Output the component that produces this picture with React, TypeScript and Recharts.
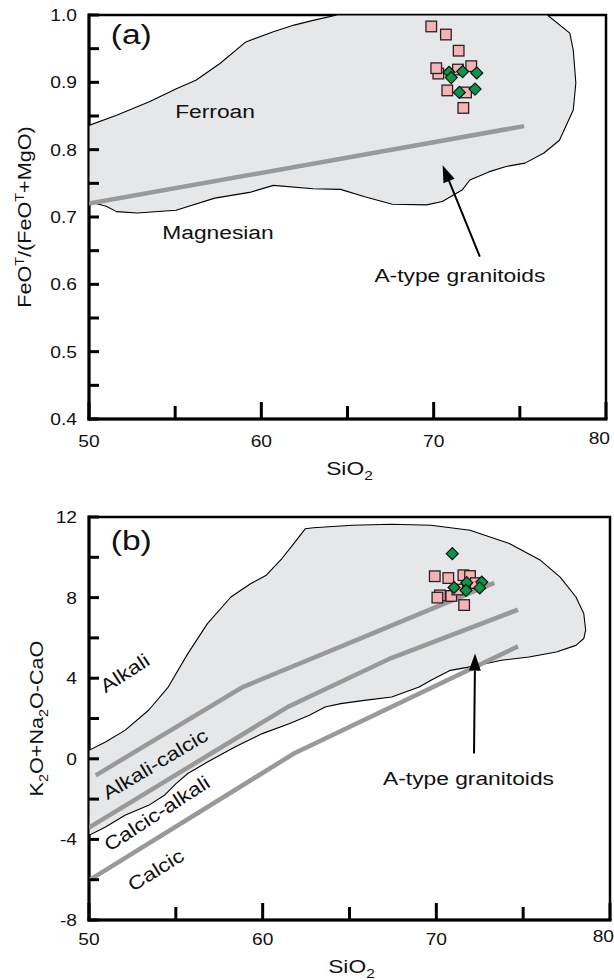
import React from 'react';
import { ScatterChart, Scatter, XAxis, YAxis, ReferenceArea } from 'recharts';

const FONT = '"Liberation Sans", Arial, Helvetica, sans-serif';
const STRETCH = 1.2;
const INK = '#111';

// shared SiO2 axis
const sio2Ticks = [50, 55, 60, 65, 70, 75, 80];
const feoTicks = [0.4, 0.45, 0.5, 0.55, 0.6, 0.65, 0.7, 0.75, 0.8, 0.85, 0.9, 0.95, 1.0];
const maliTicks = [-8, -6, -4, -2, 0, 2, 4, 6, 8, 10, 12];

// (a) FeOT/(FeOT+MgO) vs SiO2
const granitoidFieldA = [
  { x: 50.0, y: 0.836 }, { x: 51.6, y: 0.851 }, { x: 53.5, y: 0.871 }, { x: 55.1, y: 0.891 },
  { x: 56.2, y: 0.903 }, { x: 57.6, y: 0.928 }, { x: 59.1, y: 0.96 }, { x: 60.7, y: 0.975 },
  { x: 61.9, y: 0.985 }, { x: 63.0, y: 0.992 }, { x: 64.4, y: 1.0 }, { x: 76.6, y: 1.0 },
  { x: 77.9, y: 0.973 }, { x: 78.1, y: 0.948 }, { x: 78.25, y: 0.899 }, { x: 78.1, y: 0.859 },
  { x: 77.3, y: 0.814 }, { x: 76.4, y: 0.795 }, { x: 75.3, y: 0.78 }, { x: 74.2, y: 0.775 },
  { x: 73.2, y: 0.767 }, { x: 72.1, y: 0.755 }, { x: 71.65, y: 0.74 }, { x: 70.5, y: 0.723 },
  { x: 69.6, y: 0.718 }, { x: 67.6, y: 0.719 }, { x: 66.0, y: 0.73 }, { x: 64.6, y: 0.741 },
  { x: 63.0, y: 0.742 }, { x: 60.7, y: 0.747 }, { x: 59.4, y: 0.737 }, { x: 57.3, y: 0.728 },
  { x: 55.05, y: 0.71 }, { x: 52.8, y: 0.706 }, { x: 51.6, y: 0.708 }, { x: 51.0, y: 0.716 },
  { x: 50.4, y: 0.72 }, { x: 50.0, y: 0.72 },
];
const ferroanBoundary = [{ x: 50, y: 0.72 }, { x: 75.25, y: 0.835 }];
const squaresA = [
  { x: 69.86, y: 0.983 }, { x: 70.71, y: 0.971 }, { x: 71.45, y: 0.947 },
  { x: 70.27, y: 0.913 }, { x: 70.15, y: 0.921 }, { x: 71.41, y: 0.919 }, { x: 72.18, y: 0.924 },
  { x: 70.79, y: 0.888 }, { x: 71.88, y: 0.885 }, { x: 71.72, y: 0.862 },
];
const diamondsA = [
  { x: 70.89, y: 0.915 }, { x: 71.02, y: 0.907 }, { x: 71.68, y: 0.916 },
  { x: 72.5, y: 0.914 }, { x: 71.49, y: 0.885 }, { x: 72.4, y: 0.89 },
];
const notesA = [
  { x: 55.0, y: 0.847, text: 'Ferroan' },
  { x: 54.25, y: 0.668, text: 'Magnesian' },
  { x: 66.56, y: 0.604, text: 'A-type granitoids' },
];
const arrowA = [{ x: 72.68, y: 0.641 }, { x: 70.52, y: 0.777 }];
const tagA = [{ x: 51.26, y: 0.957, text: '(a)' }];

// (b) MALI (K2O+Na2O-CaO) vs SiO2
const granitoidFieldB = [
  { x: 50.0, y: 0.42 }, { x: 50.95, y: 0.83 }, { x: 52.07, y: 1.41 }, { x: 53.43, y: 2.41 },
  { x: 54.56, y: 3.56 }, { x: 55.69, y: 5.22 }, { x: 56.82, y: 6.71 }, { x: 58.17, y: 8.03 },
  { x: 59.3, y: 8.69 }, { x: 60.21, y: 9.11 }, { x: 61.11, y: 9.94 }, { x: 61.79, y: 10.68 },
  { x: 62.46, y: 11.42 }, { x: 62.92, y: 11.47 }, { x: 65.17, y: 11.59 }, { x: 67.43, y: 11.64 },
  { x: 69.69, y: 11.59 }, { x: 71.94, y: 11.34 }, { x: 74.2, y: 10.68 }, { x: 76.0, y: 9.85 },
  { x: 77.13, y: 9.02 }, { x: 78.04, y: 8.03 }, { x: 78.49, y: 7.21 }, { x: 78.6, y: 6.38 },
  { x: 78.49, y: 5.97 }, { x: 78.04, y: 5.63 }, { x: 76.91, y: 5.3 }, { x: 75.33, y: 5.05 },
  { x: 73.75, y: 4.89 }, { x: 71.94, y: 4.56 }, { x: 70.81, y: 4.39 }, { x: 69.69, y: 3.9 },
  { x: 69.01, y: 3.56 }, { x: 67.43, y: 3.07 }, { x: 65.85, y: 2.9 }, { x: 64.5, y: 2.74 },
  { x: 63.59, y: 2.57 }, { x: 62.69, y: 2.16 }, { x: 61.56, y: 1.75 }, { x: 59.98, y: 1.25 },
  { x: 58.4, y: 0.59 }, { x: 56.82, y: -0.16 }, { x: 55.69, y: -0.73 }, { x: 55.01, y: -1.23 },
  { x: 54.34, y: -1.81 }, { x: 53.43, y: -2.31 }, { x: 52.07, y: -2.8 }, { x: 50.95, y: -3.38 },
  { x: 50.0, y: -3.8 },
];
const alkaliBoundary = [
  { x: 50.39, y: -0.82 }, { x: 58.85, y: 3.56 }, { x: 66.3, y: 6.21 }, { x: 73.34, y: 8.73 },
];
const alkaliCalcicBoundary = [
  { x: 50, y: -3.41 }, { x: 61.5, y: 2.6 }, { x: 67.4, y: 5.0 }, { x: 74.7, y: 7.4 },
];
const calcAlkalicBoundary = [{ x: 50, y: -6.03 }, { x: 61.8, y: 0.26 }, { x: 74.7, y: 5.58 }];
const squaresB = [
  { x: 69.91, y: 9.06 }, { x: 70.69, y: 8.97 }, { x: 71.56, y: 9.11 }, { x: 71.94, y: 9.07 },
  { x: 70.21, y: 8.11 }, { x: 70.06, y: 8.0 }, { x: 70.86, y: 8.08 }, { x: 71.21, y: 8.4 },
  { x: 72.27, y: 8.72 }, { x: 71.6, y: 7.63 },
];
const diamondsB = [
  { x: 70.92, y: 10.18 }, { x: 71.02, y: 8.5 }, { x: 71.75, y: 8.74 },
  { x: 71.71, y: 8.36 }, { x: 72.62, y: 8.77 }, { x: 72.5, y: 8.48 },
];
const notesB = [
  { x: 50.95, y: 3.24, text: 'Alkali', angle: 33 },
  { x: 51.06, y: -2.06, text: 'Alkali-calcic', angle: 31 },
  { x: 51.18, y: -4.63, text: 'Calcic-alkali', angle: 33 },
  { x: 52.53, y: -6.61, text: 'Calcic', angle: 32 },
  { x: 66.93, y: -1.32, text: 'A-type granitoids' },
];
const arrowB = [{ x: 72.17, y: 0.26 }, { x: 72.23, y: 5.22 }];
const tagB = [{ x: 51.25, y: 10.35, text: '(b)' }];

type Pt = { x: number; y: number };
type Note = { x: number; y: number; text: string; angle?: number };

const Wide = ({ x, y, angle = 0, size, anchor = 'start', children }: any) => (
  <text
    transform={`translate(${x},${y}) rotate(${-angle}) scale(${STRETCH},1)`}
    fontFamily={FONT}
    fontSize={size}
    textAnchor={anchor}
    fill={INK}
  >
    {children}
  </text>
);

const noMarker = () => <g />;

const square = (p: any) => (
  <rect x={p.cx - 5.3} y={p.cy - 5.3} width={10.6} height={10.6} fill="#f6b3b5" stroke="#2a2222" strokeWidth={1.3} />
);

const diamond = (p: any) => (
  <polygon
    points={`${p.cx},${p.cy - 6} ${p.cx + 6},${p.cy} ${p.cx},${p.cy + 6} ${p.cx - 6},${p.cy}`}
    fill="#0b9548"
    stroke="#111"
    strokeWidth={1.2}
  />
);

const noteShape = (size: number) => (p: any) => (
  <Wide x={p.cx} y={p.cy} angle={p.payload.angle || 0} size={size}>
    {p.payload.text}
  </Wide>
);

// filled outline of the granitoid field
const fieldShape = (p: any) => {
  const pts = p.points || [];
  const d = pts.map((q: any, i: number) => `${i ? 'L' : 'M'}${q.x},${q.y}`).join('') + 'Z';
  return <path d={d} fill="#e6e7e9" stroke="#000" strokeWidth={1.1} strokeLinejoin="round" />;
};

const arrowShape = (p: any) => {
  const pts = p.points || [];
  if (pts.length < 2) return <g />;
  const a = pts[0];
  const b = pts[pts.length - 1];
  const ang = Math.atan2(b.y - a.y, b.x - a.x);
  const len = 17;
  const half = 6;
  const bx = b.x - len * Math.cos(ang);
  const by = b.y - len * Math.sin(ang);
  const nx = -Math.sin(ang) * half;
  const ny = Math.cos(ang) * half;
  return (
    <g>
      <line x1={a.x} y1={a.y} x2={bx} y2={by} stroke="#000" strokeWidth={2} />
      <polygon points={`${b.x},${b.y} ${bx + nx},${by + ny} ${bx - nx},${by - ny}`} fill="#000" />
    </g>
  );
};

const xTick = (labelDy: number) => (props: any) => {
  const { x, y, payload } = props;
  const v = Number(payload.value);
  const major = v % 10 === 0;
  const last = v === 80;
  return (
    <g>
      <line x1={x} x2={x} y1={y} y2={y - (major ? 17 : 13)} stroke="#000" strokeWidth={3} />
      {major && (
        <Wide x={last ? x + 4 : x} y={y + labelDy - (last ? 3 : 0)} size={16} anchor={last ? 'end' : 'middle'}>
          {v}
        </Wide>
      )}
    </g>
  );
};

const yTick = (labelled: (v: number) => boolean, fmt: (v: number) => string) => (props: any) => {
  const { x, y, payload } = props;
  const v = Number(payload.value);
  return (
    <g>
      <line x1={x} x2={x + 10} y1={y} y2={y} stroke="#000" strokeWidth={3} />
      {labelled(v) && (
        <Wide x={x - 12} y={y + 6} size={16} anchor="end">
          {fmt(v)}
        </Wide>
      )}
    </g>
  );
};

const xTitle = (dy: number, fallback: { x: number; y: number; width: number }) => (props: any) => {
  const vb = props.viewBox || fallback;
  return (
    <Wide x={vb.x + vb.width / 2 + 2} y={vb.y + dy} size={19} anchor="middle">
      SiO<tspan fontSize={13} dy={5}>2</tspan>
    </Wide>
  );
};

const yTitle = (bx: number, body: React.ReactNode, fallback: { x: number; y: number; height: number }) =>
  (props: any) => {
    const vb = props.viewBox || fallback;
    return (
      <Wide x={vb.x + bx} y={vb.y + vb.height / 2} angle={90} size={18} anchor="middle">
        {body}
      </Wide>
    );
  };

const feoTitle = (
  <>
    FeO<tspan fontSize={12} dy={-7}>T</tspan>
    <tspan dy={7}>/(FeO</tspan>
    <tspan fontSize={12} dy={-7}>T</tspan>
    <tspan dy={7}>+MgO)</tspan>
  </>
);

const maliTitle = (
  <>
    K<tspan fontSize={12} dy={5}>2</tspan>
    <tspan dy={-5}>O+Na</tspan>
    <tspan fontSize={12} dy={5}>2</tspan>
    <tspan dy={-5}>O-CaO</tspan>
  </>
);

interface PanelProps {
  top: number;
  margin: { top: number; right: number; bottom: number; left: number };
  yDomain: [number, number];
  yTicks: number[];
  labelled: (v: number) => boolean;
  fmt: (v: number) => string;
  field: Pt[];
  boundaries: Pt[][];
  squares: Pt[];
  diamonds: Pt[];
  notes: Note[];
  arrow: Pt[];
  tag: Note[];
  tickDy: number;
  titleDy: number;
  yTitleX: number;
  yTitleBody: React.ReactNode;
}

const Panel = (p: PanelProps) => {
  const plotW = 614 - p.margin.left - 60 - p.margin.right;
  const plotH = 490 - p.margin.top - p.margin.bottom - 40;
  return (
    <div style={{ position: 'absolute', left: 0, top: p.top }}>
      <ScatterChart width={614} height={490} margin={p.margin}>
        <Scatter data={p.field} shape={noMarker} line={fieldShape} lineType="joint" isAnimationActive={false} />
        {p.boundaries.map((b, i) => (
          <Scatter
            key={i}
            data={b}
            shape={noMarker}
            line={{ stroke: '#999', strokeWidth: 4.5, fill: 'none' }}
            lineType="joint"
            isAnimationActive={false}
          />
        ))}
        <Scatter data={p.arrow} shape={noMarker} line={arrowShape} lineType="joint" isAnimationActive={false} />
        <Scatter data={p.squares} shape={square} isAnimationActive={false} />
        <Scatter data={p.diamonds} shape={diamond} isAnimationActive={false} />
        <Scatter data={p.notes} shape={noteShape(19)} isAnimationActive={false} />
        <Scatter data={p.tag} shape={noteShape(28)} isAnimationActive={false} />
        <ReferenceArea
          x1={50}
          x2={80}
          y1={p.yDomain[0]}
          y2={p.yDomain[1]}
          fill="none"
          fillOpacity={0}
          stroke="#000"
          strokeWidth={2.5}
        />
        <XAxis
          type="number"
          dataKey="x"
          domain={[50, 80]}
          ticks={sio2Ticks}
          interval={0}
          allowDataOverflow
          height={40}
          tickSize={0}
          tickMargin={0}
          tickLine={false}
          axisLine={{ stroke: '#000', strokeWidth: 3, strokeLinecap: 'square' }}
          tick={xTick(p.tickDy)}
          label={xTitle(p.titleDy, { x: p.margin.left + 60, y: p.margin.top + plotH, width: plotW })}
        />
        <YAxis
          type="number"
          dataKey="y"
          domain={p.yDomain}
          ticks={p.yTicks}
          interval={0}
          allowDataOverflow
          width={60}
          tickSize={0}
          tickMargin={0}
          tickLine={false}
          axisLine={{ stroke: '#000', strokeWidth: 3, strokeLinecap: 'square' }}
          tick={yTick(p.labelled, p.fmt)}
          label={yTitle(p.yTitleX, p.yTitleBody, { x: p.margin.left, y: p.margin.top, height: plotH })}
        />
      </ScatterChart>
    </div>
  );
};

export default function App() {
  return (
    <div style={{ position: 'absolute', left: 0, top: 0, width: 614, height: 980, background: '#fff' }}>
      <Panel
        top={0}
        margin={{ top: 15, right: 8, bottom: 31, left: 29 }}
        yDomain={[0.4, 1.0]}
        yTicks={feoTicks}
        labelled={(v) => Math.abs(v * 10 - Math.round(v * 10)) < 1e-6}
        fmt={(v) => v.toFixed(1)}
        field={granitoidFieldA}
        boundaries={[ferroanBoundary]}
        squares={squaresA}
        diamonds={diamondsA}
        notes={notesA}
        arrow={arrowA}
        tag={tagA}
        tickDy={28}
        titleDy={56}
        yTitleX={2}
        yTitleBody={feoTitle}
      />
      <Panel
        top={490}
        margin={{ top: 27, right: 4, bottom: 20, left: 29 }}
        yDomain={[-8, 12]}
        yTicks={maliTicks}
        labelled={(v) => v % 4 === 0}
        fmt={(v) => String(v)}
        field={granitoidFieldB}
        boundaries={[alkaliBoundary, alkaliCalcicBoundary, calcAlkalicBoundary]}
        squares={squaresB}
        diamonds={diamondsB}
        notes={notesB}
        arrow={arrowB}
        tag={tagB}
        tickDy={25}
        titleDy={53}
        yTitleX={14}
        yTitleBody={maliTitle}
      />
    </div>
  );
}
